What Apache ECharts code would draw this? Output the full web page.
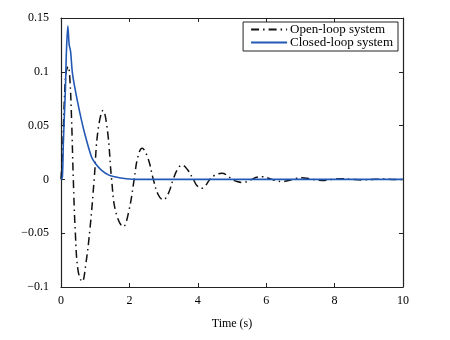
<!DOCTYPE html>
<html>
<head>
<meta charset="utf-8">
<script src="https://cdn.jsdelivr.net/npm/echarts@6/dist/echarts.min.js"></script>
<style>html,body{margin:0;padding:0;background:#fff}#c{width:450px;height:340px}</style>
</head>
<body>
<div id="c"></div>
<script>
var seriesNames = ['Open-loop system', 'Closed-loop system'];
var xTicks = [0, 2, 4, 6, 8, 10];
var yTicks = [-0.1, -0.05, 0, 0.05, 0.1, 0.15];
var xLabel = 'Time (s)';

var openT = [0, 0.05, 0.1, 0.15, 0.21, 0.26, 0.31, 0.36, 0.42, 0.5, 0.62, 0.72, 0.85, 0.97, 1.08, 1.23, 1.36, 1.48, 1.6, 1.82, 1.98, 2.14, 2.24, 2.37, 2.54, 2.7, 2.84, 2.99, 3.14, 3.28, 3.4, 3.54, 3.7, 3.87, 3.98, 4.11, 4.22, 4.35, 4.5, 4.7, 4.85, 5.0, 5.15, 5.29, 5.45, 5.58, 5.72, 5.88, 6.03, 6.17, 6.32, 6.47, 6.62, 6.76, 6.9, 7.05, 7.2, 7.35, 7.5, 7.64, 7.8, 7.92, 8.2, 8.5, 8.8, 9.1, 9.4, 9.7, 10];
var openV = [0, 0.03, 0.075, 0.1, 0.105, 0.093, 0.055, 0, -0.05, -0.085, -0.095, -0.08, -0.045, 0, 0.045, 0.064, 0.045, 0, -0.03, -0.044, -0.03, 0, 0.02, 0.029, 0.02, 0, -0.014, -0.019, -0.013, 0, 0.009, 0.0134, 0.009, 0, -0.006, -0.0083, -0.006, 0, 0.004, 0.0057, 0.004, 0, -0.002, -0.0028, -0.002, 0, 0.002, 0.0025, 0.0015, 0, -0.0015, -0.002, -0.0012, 0, 0.0011, 0.0015, 0.001, 0, -0.0008, -0.001, -0.0006, 0, 0.0007, 0, -0.0005, 0, 0.0003, 0, 0];

var closedT = [0, 0.04, 0.07, 0.1, 0.13, 0.16, 0.2, 0.24, 0.28, 0.33, 0.4, 0.55, 0.69, 0.89, 1.0, 1.18, 1.4, 1.57, 1.8, 2.15, 10];
var closedV = [0, 0.002, 0.035, 0.06, 0.085, 0.12, 0.1425, 0.125, 0.119, 0.1, 0.086, 0.062, 0.043, 0.021, 0.015, 0.0087, 0.004, 0.0025, 0.001, 0, 0];

function pairs(t, v) { return t.map(function (x, i) { return [x, v[i]]; }); }

var font = 'Liberation Serif';
var axisLine = { show: true, onZero: false, lineStyle: { color: '#222', width: 1.2 } };
var tick = { show: true, inside: true, length: 4, lineStyle: { color: '#222', width: 1 } };
var xInt = xTicks[1] - xTicks[0], yInt = +(yTicks[1] - yTicks[0]).toFixed(3);

function fmtY(v) {
  var s = String(+Math.abs(v).toFixed(3));
  if (+v.toFixed(3) === 0) return '0';
  return (v < 0 ? '\u2212' : '') + s;
}

var chart = echarts.init(document.getElementById('c'));
chart.setOption({
  animation: false,
  backgroundColor: '#fff',
  grid: { left: 61, right: 47, top: 18, bottom: 53, containLabel: false },
  legend: {
    data: seriesNames,
    orient: 'vertical',
    right: 52, top: 22,
    padding: [1, 5, 2, 7],
    itemGap: 0,
    itemWidth: 36, itemHeight: 13,
    backgroundColor: '#fff',
    borderColor: '#222', borderWidth: 1, borderRadius: 0,
    itemStyle: { opacity: 0, borderWidth: 0 },
    textStyle: { fontFamily: font, fontSize: 13, color: '#000', padding: [0, 0, 0, -2] }
  },
  xAxis: [{
    type: 'value', min: xTicks[0], max: xTicks[xTicks.length - 1], interval: xInt,
    position: 'bottom',
    axisLine: axisLine, axisTick: tick, splitLine: { show: false },
    axisLabel: { fontFamily: font, fontSize: 12, color: '#000', margin: 8 },
    name: xLabel, nameLocation: 'middle', nameGap: 31,
    nameTextStyle: { fontFamily: font, fontSize: 12, color: '#000' }
  }, {
    type: 'value', min: xTicks[0], max: xTicks[xTicks.length - 1], interval: xInt,
    position: 'top',
    axisLine: axisLine, axisTick: tick, splitLine: { show: false },
    axisLabel: { show: false }
  }],
  yAxis: [{
    type: 'value', min: yTicks[0], max: yTicks[yTicks.length - 1], interval: yInt,
    position: 'left',
    axisLine: axisLine, axisTick: tick, splitLine: { show: false },
    axisLabel: { fontFamily: font, fontSize: 12, color: '#000', margin: 12, formatter: fmtY }
  }, {
    type: 'value', min: yTicks[0], max: yTicks[yTicks.length - 1], interval: yInt,
    position: 'right',
    axisLine: axisLine, axisTick: tick, splitLine: { show: false },
    axisLabel: { show: false }
  }],
  series: [{
    name: seriesNames[0], type: 'line', data: pairs(openT, openV),
    xAxisIndex: 0, yAxisIndex: 0,
    showSymbol: false, symbol: 'none', smooth: 0.4,
    lineStyle: { color: '#111', width: 1.5, type: [8, 4, 1.5, 4] },
    itemStyle: { color: '#111' }
  }, {
    name: seriesNames[1], type: 'line', data: pairs(closedT, closedV),
    xAxisIndex: 0, yAxisIndex: 0,
    showSymbol: false, symbol: 'none', smooth: 0.3,
    lineStyle: { color: '#2358b5', width: 1.6 },
    itemStyle: { color: '#2358b5' }
  }]
});
</script>
</body>
</html>
